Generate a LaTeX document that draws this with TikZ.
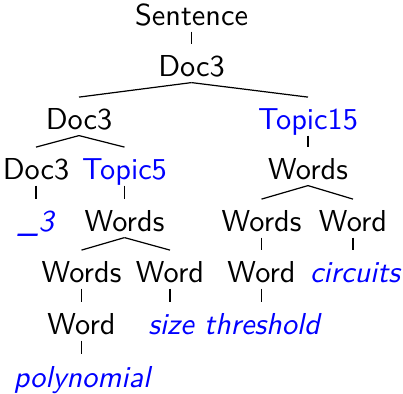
\documentclass[tikz,border=0pt]{standalone}
\usepackage{fontspec}

\begin{document}
\begin{tikzpicture}[x=0.33pt,y=-0.33pt,
	nt/.style={anchor=base,inner xsep=0pt,inner ysep=1.65pt,text height=9pt,text depth=0pt,font=\sffamily},
	tp/.style={nt,text=blue},
	wd/.style={nt,text=blue,font=\sffamily\itshape}]
			\useasboundingbox (0,0) rectangle (403,394);
			% nonterminals, one row per level
			\node[nt] (s) at (191.5,26) {Sentence};
			\node[nt] (d1) at (191.5,77) {Doc3};
			\node[nt] (d2) at (79,130) {Doc3};
			\node[tp] (t15) at (308,130) {Topic15};
			\node[nt] (d3) at (36,180) {Doc3};
			\node[tp] (t5) at (124.5,180) {Topic5};
			\node[nt] (ws1) at (308,180) {Words};
			\node[wd] (u3) at (36,232) {\_3};
			\node[nt] (ws2) at (124.5,232) {Words};
			\node[nt] (ws3) at (261.5,232) {Words};
			\node[nt] (w1) at (353,232) {Word};
			\node[nt] (ws4) at (81.5,283) {Words};
			\node[nt] (w2) at (170,283) {Word};
			\node[nt] (w3) at (261.5,283) {Word};
			\node[wd] (circ) at (355,283) {circuits};
			\node[nt] (w4) at (81.5,335) {Word};
			\node[wd] (size) at (171,335) {size};
			\node[wd] (thr) at (262,335) {threshold};
			\node[wd] (poly) at (82,387) {polynomial};

			% branches (single children hang straight down)
			\draw (s.south) -- (s.south |- d1.north);
			\draw (d1.south) -- (d2.north);
			\draw (d1.south) -- (t15.north);
			\draw (d2.south) -- (d3.north);
			\draw (d2.south) -- (t5.north);
			\draw (t15.south) -- (t15.south |- ws1.north);
			\draw (d3.south) -- (d3.south |- u3.north);
			\draw (t5.south) -- (t5.south |- ws2.north);
			\draw (ws1.south) -- (ws3.north);
			\draw (ws1.south) -- (w1.north);
			\draw (ws2.south) -- (ws4.north);
			\draw (ws2.south) -- (w2.north);
			\draw (ws3.south) -- (ws3.south |- w3.north);
			\draw (w1.south) -- (w1.south |- circ.north);
			\draw (ws4.south) -- (ws4.south |- w4.north);
			\draw (w2.south) -- (w2.south |- size.north);
			\draw (w3.south) -- (w3.south |- thr.north);
			\draw (w4.south) -- (w4.south |- poly.north);
		\end{tikzpicture}
\end{document}
